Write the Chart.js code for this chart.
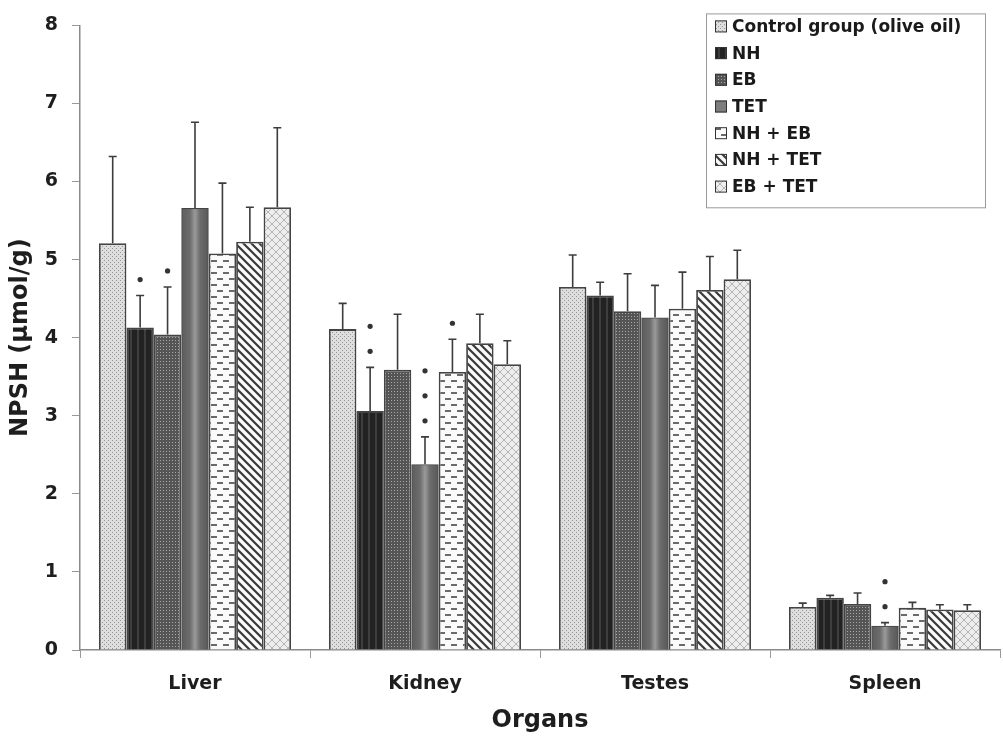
<!DOCTYPE html>
<html>
<head>
<meta charset="utf-8">
<script src="https://cdn.jsdelivr.net/npm/chart.js@4"></script>
<style>
  html, body { margin: 0; padding: 0; background: #fff; }
  #c { display: block; }
</style>
</head>
<body>
<canvas id="c" width="1003" height="737"></canvas>
<script>
// datos
const organs = ['Liver', 'Kidney', 'Testes', 'Spleen'];
const groups = ['Control group (olive oil)', 'NH', 'EB', 'TET', 'NH + EB', 'NH + TET', 'EB + TET'];

const control = [5.21, 4.11, 4.65, 0.55];
const nh      = [4.13, 3.06, 4.54, 0.67];
const eb      = [4.04, 3.59, 4.34, 0.59];
const tet     = [5.66, 2.38, 4.26, 0.31];
const nhEb    = [5.08, 3.56, 4.37, 0.54];
const nhTet   = [5.23, 3.93, 4.61, 0.52];
const ebTet   = [5.67, 3.66, 4.75, 0.51];

// error (SD) hacia arriba
const controlErr = [1.11, 0.33, 0.41, 0.05];
const nhErr      = [0.41, 0.56, 0.17, 0.03];
const ebErr      = [0.61, 0.71, 0.48, 0.14];
const tetErr     = [1.10, 0.35, 0.41, 0.04];
const nhEbErr    = [0.90, 0.42, 0.47, 0.07];
const nhTetErr   = [0.44, 0.37, 0.43, 0.06];
const ebTetErr   = [1.02, 0.30, 0.37, 0.07];

// asteriscos de significancia
const controlStars = [0, 0, 0, 0];
const nhStars      = [1, 2, 0, 0];
const ebStars      = [1, 0, 0, 0];
const tetStars     = [0, 3, 0, 2];
const nhEbStars    = [0, 1, 0, 0];
const nhTetStars   = [0, 0, 0, 0];
const ebTetStars   = [0, 0, 0, 0];

const yTicks = [0, 1, 2, 3, 4, 5, 6, 7, 8];

// patrones de relleno
function makePattern(w, h, draw) {
    const cv = document.createElement('canvas');
    cv.width = w; cv.height = h;
    const g = cv.getContext('2d');
    draw(g, w, h);
    return document.getElementById('c').getContext('2d').createPattern(cv, 'repeat');
}

const patControl = makePattern(4, 4, (g) => {
    g.fillStyle = '#dedede'; g.fillRect(0, 0, 4, 4);
    g.fillStyle = '#969696'; g.fillRect(0, 0, 1, 1); g.fillRect(2, 2, 1, 1);
});
const patNh = makePattern(7, 4, (g) => {
    g.fillStyle = '#222'; g.fillRect(0, 0, 7, 4);
    g.fillStyle = '#3e3e3e'; g.fillRect(4, 0, 2, 4);
});
const patEb = makePattern(3, 3, (g) => {
    g.fillStyle = '#555'; g.fillRect(0, 0, 3, 3);
    g.fillStyle = '#a8a8a8'; g.fillRect(1, 1, 1, 1);
});
const patTet = '#7d7d7d';
const patNhEb = makePattern(12, 12, (g) => {
    g.fillStyle = '#fafafa'; g.fillRect(0, 0, 12, 12);
    g.fillStyle = '#6a6a6a';
    g.fillRect(1, 2, 6, 2);
    g.fillRect(7, 8, 5, 2); g.fillRect(0, 8, 1, 2);
});
const patNhTet = makePattern(8, 8, (g) => {
    g.fillStyle = '#fafafa'; g.fillRect(0, 0, 8, 8);
    g.strokeStyle = '#3a3a3a'; g.lineWidth = 2.2;
    g.beginPath();
    g.moveTo(-1, -1); g.lineTo(9, 9);
    g.moveTo(-5, 3); g.lineTo(5, 13);
    g.moveTo(3, -5); g.lineTo(13, 5);
    g.stroke();
});
const patEbTet = makePattern(8, 8, (g) => {
    g.fillStyle = '#eeeeee'; g.fillRect(0, 0, 8, 8);
    g.strokeStyle = '#a4a4a4'; g.lineWidth = 0.8;
    g.beginPath();
    g.moveTo(0, 0); g.lineTo(8, 8);
    g.moveTo(8, 0); g.lineTo(0, 8);
    g.stroke();
});

const seriesValues = [control, nh, eb, tet, nhEb, nhTet, ebTet];
const seriesErr = [controlErr, nhErr, ebErr, tetErr, nhEbErr, nhTetErr, ebTetErr];
const seriesStars = [controlStars, nhStars, ebStars, tetStars, nhEbStars, nhTetStars, ebTetStars];
const seriesFill = [patControl, patNh, patEb, patTet, patNhEb, patNhTet, patEbTet];

const datasets = groups.map((name, i) => ({
    label: name,
    data: seriesValues[i],
    err: seriesErr[i],
    stars: seriesStars[i],
    shaded: i === 3, // TET tiene sombreado vertical
    backgroundColor: seriesFill[i],
    borderColor: '#444',
    borderWidth: 1.8,
    categoryPercentage: 0.835,
    barPercentage: 1.0
}));

// sombreado de TET, barras de error y asteriscos
const errorBars = {
    id: 'errorBars',
    afterDatasetsDraw(chart) {
        const ctx = chart.ctx;
        const y = chart.scales.y;
        ctx.save();
        chart.data.datasets.forEach((ds, di) => {
            const meta = chart.getDatasetMeta(di);
            meta.data.forEach((bar, i) => {
                if (ds.shaded) {
                    const l = bar.x - bar.width / 2 + 1, r = bar.x + bar.width / 2 - 1;
                    const gr = ctx.createLinearGradient(l, 0, r, 0);
                    gr.addColorStop(0, '#5e5e5e');
                    gr.addColorStop(0.3, '#6c6c6c');
                    gr.addColorStop(0.5, '#9a9a9a');
                    gr.addColorStop(0.7, '#6c6c6c');
                    gr.addColorStop(1, '#5a5a5a');
                    ctx.fillStyle = gr;
                    ctx.fillRect(l, bar.y + 1, r - l, bar.base - bar.y - 1);
                }
                const top = y.getPixelForValue(ds.data[i] + ds.err[i]);
                ctx.strokeStyle = '#3c3c3c';
                ctx.lineWidth = 1.6;
                ctx.beginPath();
                ctx.moveTo(bar.x, bar.y);
                ctx.lineTo(bar.x, top);
                ctx.moveTo(bar.x - 4, top);
                ctx.lineTo(bar.x + 4, top);
                ctx.stroke();
                ctx.fillStyle = '#333';
                for (let s = 0; s < ds.stars[i]; s++) {
                    ctx.beginPath();
                    ctx.arc(bar.x, top - 16 - s * 25, 2.6, 0, Math.PI * 2);
                    ctx.fill();
                }
            });
        });
        ctx.restore();
    }
};

// leyenda dentro del área del gráfico
const boxLegend = {
    id: 'boxLegend',
    afterDraw(chart) {
        const ctx = chart.ctx;
        const area = chart.chartArea;
        const right = area.right - 15;
        const left = right - 279;
        const top = area.top - 12;
        const rowH = 26.7;
        ctx.save();
        ctx.fillStyle = '#fff';
        ctx.fillRect(left, top, right - left, rowH * 7 + 7);
        ctx.strokeStyle = '#9a9a9a';
        ctx.lineWidth = 1;
        ctx.strokeRect(left + 0.5, top + 0.5, right - left, rowH * 7 + 7);
        ctx.font = 'bold 17px "DejaVu Sans"';
        ctx.textBaseline = 'middle';
        chart.data.datasets.forEach((ds, i) => {
            const cy = top + 13 + i * rowH;
            ctx.fillStyle = ds.backgroundColor;
            ctx.fillRect(left + 9, cy - 6, 12, 12);
            ctx.strokeStyle = '#333';
            ctx.lineWidth = 1;
            ctx.strokeRect(left + 9.5, cy - 5.5, 11, 11);
            ctx.fillStyle = '#1a1a1a';
            ctx.fillText(ds.label, left + 26, cy + 1);
        });
        ctx.restore();
    }
};

new Chart(document.getElementById('c'), {
    type: 'bar',
    data: { labels: organs, datasets: datasets },
    options: {
        responsive: false,
        animation: false,
        devicePixelRatio: 1,
        layout: { padding: { top: 25, right: 3, left: 0, bottom: 0 } },
        plugins: { legend: { display: false }, tooltip: { enabled: false } },
        scales: {
            x: {
                afterFit(scale) { scale.height = 87; },
                grid: { display: true, drawOnChartArea: false, offset: true, tickLength: 8, color: '#9a9a9a' },
                border: { color: '#8a8a8a', width: 1.5 },
                ticks: { color: '#1e1e1e', padding: 15, font: { family: 'DejaVu Sans', size: 19, weight: 'bold' } },
                title: { display: true, text: 'Organs', color: '#1e1e1e', padding: { top: 4, bottom: 2 },
                         font: { family: 'DejaVu Sans', size: 24, weight: 'bold' } }
            },
            y: {
                min: 0, max: 8,
                afterFit(scale) { scale.width = 80; },
                afterBuildTicks(scale) { scale.ticks = yTicks.map(v => ({ value: v })); },
                grid: { display: true, drawOnChartArea: false, tickLength: 8, color: '#9a9a9a' },
                border: { color: '#8a8a8a', width: 1.5 },
                ticks: { color: '#1e1e1e', padding: 14, font: { family: 'DejaVu Sans', size: 19, weight: 'bold' } },
                title: { display: true, text: 'NPSH (µmol/g)', color: '#1e1e1e', padding: { top: 6, bottom: 0 },
                         font: { family: 'DejaVu Sans', size: 24, weight: 'bold' } }
            }
        }
    },
    plugins: [errorBars, boxLegend]
});
</script>
</body>
</html>
